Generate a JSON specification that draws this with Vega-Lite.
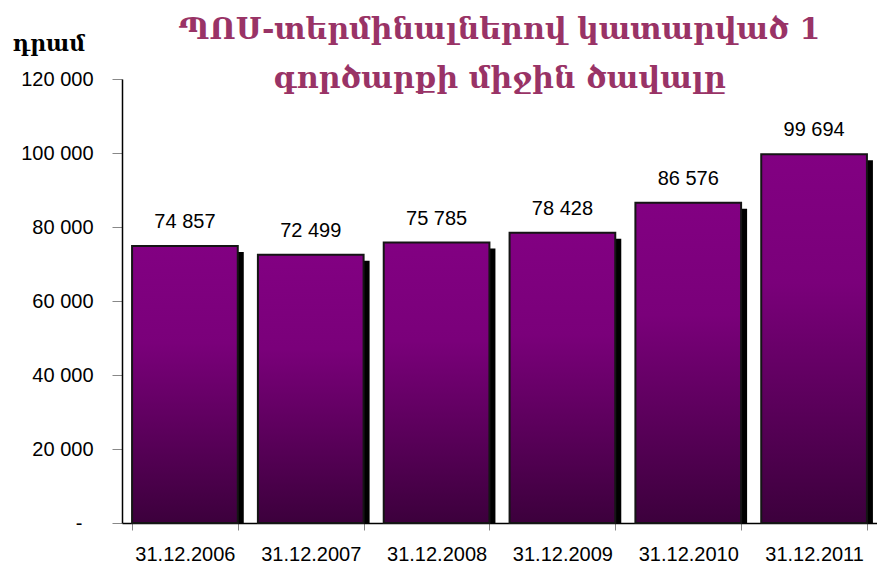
{
  "$schema": "https://vega.github.io/schema/vega-lite/v6.json",
  "autosize": "none",
  "width": 755,
  "height": 444,
  "padding": {"left": 122, "top": 79, "right": 0, "bottom": 46},
  "background": "white",
  "title": {
    "text": ["ՊՈՍ-տերմինալներով կատարված 1", "գործարքի միջին ծավալը"],
    "font": "DejaVu Serif",
    "fontSize": 30,
    "fontWeight": "bold",
    "color": "#993366",
    "lineHeight": 49,
    "anchor": "middle",
    "frame": "group",
    "baseline": "bottom",
    "offset": -92
  },
  "data": {
    "values": [
      {"date": "31.12.2006", "value": 74857},
      {"date": "31.12.2007", "value": 72499},
      {"date": "31.12.2008", "value": 75785},
      {"date": "31.12.2009", "value": 78428},
      {"date": "31.12.2010", "value": 86576},
      {"date": "31.12.2011", "value": 99694}
    ]
  },
  "encoding": {
    "x": {
      "field": "date",
      "type": "nominal",
      "sort": null,
      "scale": {"paddingInner": 0.16, "paddingOuter": 0.08},
      "axis": {
        "title": null,
        "labelAngle": 0,
        "labelFont": "Liberation Sans",
        "labelFontSize": 20,
        "labelColor": "black",
        "labelPadding": 14,
        "tickSize": 7,
        "tickColor": "#888888",
        "tickBand": "extent",
        "domainColor": "black",
        "domainWidth": 1.5
      }
    },
    "y": {
      "field": "value",
      "type": "quantitative",
      "scale": {"domain": [0, 120000], "nice": false},
      "axis": {
        "title": "դրամ",
        "titleAngle": 0,
        "titleAlign": "left",
        "titleBaseline": "alphabetic",
        "titleX": -110,
        "titleY": -29,
        "titleFont": "DejaVu Serif",
        "titleFontSize": 22,
        "titleFontWeight": "bold",
        "titleColor": "black",
        "values": [0, 20000, 40000, 60000, 80000, 100000, 120000],
        "format": ",d",
        "labelExpr": "datum.value == 0 ? '-' : datum.label",
        "labelFont": "Liberation Sans",
        "labelFontSize": 20,
        "labelColor": "black",
        "labelPadding": {"condition": {"test": "datum.value == 0", "value": 30}, "value": 19},
        "tickSize": 10,
        "tickColor": "#888888",
        "domainColor": "black",
        "domainWidth": 1.5,
        "grid": false
      }
    }
  },
  "layer": [
    {
      "mark": {"type": "bar", "color": "black", "clip": true, "xOffset": 6, "x2Offset": 6, "yOffset": 6}
    },
    {
      "mark": {
        "type": "bar",
        "fill": {
          "gradient": "linear",
          "x1": 0, "y1": 0, "x2": 0, "y2": 1,
          "stops": [
            {"offset": 0, "color": "#820082"},
            {"offset": 0.35, "color": "#7a007a"},
            {"offset": 1, "color": "#3c003c"}
          ]
        },
        "stroke": "#151515",
        "strokeWidth": 2
      }
    },
    {
      "mark": {"type": "text", "baseline": "bottom", "dy": -14, "font": "Liberation Sans", "fontSize": 20, "color": "black"},
      "encoding": {"text": {"field": "value", "type": "quantitative", "format": ",d"}}
    }
  ],
  "config": {
    "view": {"stroke": null},
    "locale": {"number": {"decimal": ",", "thousands": " ", "grouping": [3], "currency": ["", ""]}}
  }
}
